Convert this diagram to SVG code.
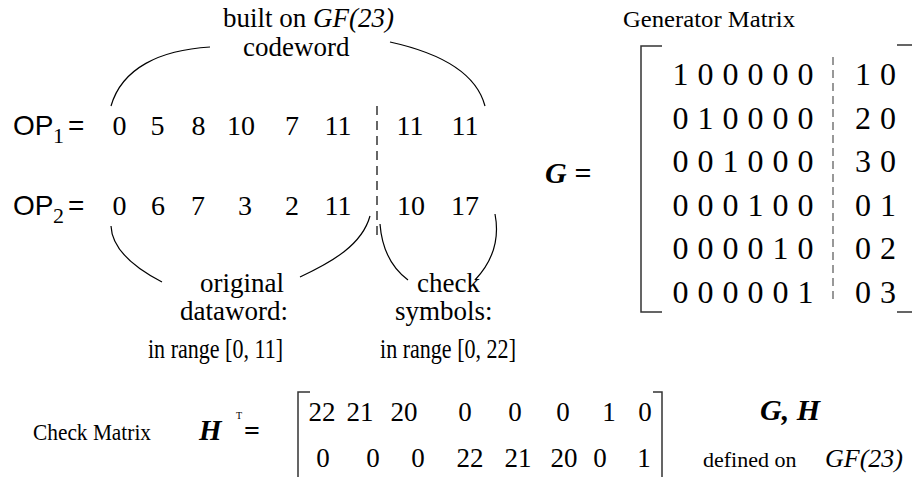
<svg xmlns="http://www.w3.org/2000/svg" width="912" height="477" viewBox="0 0 912 477">
<style>
.s{font-family:"Liberation Serif","Times New Roman",serif;fill:#000}
.a{font-family:"Liberation Sans",Arial,sans-serif;fill:#000}
.n{font-size:28px;text-anchor:middle}
.m{font-size:32px;text-anchor:middle}
.h{font-size:27px;text-anchor:middle}
.bi{font-weight:bold;font-style:italic}
.it{font-style:italic}
.arc{fill:none;stroke:#000;stroke-width:1.2}
.br{fill:none;stroke:#333;stroke-width:1.5}
</style>
<rect width="912" height="477" fill="#fff"/>
<g id="title">
<text class="s" x="223" y="27" font-size="27">built on <tspan class="it">GF(23)</tspan></text>
<text class="s" x="243" y="56" font-size="27">codeword</text>
</g>
<g id="op1">
<text class="a" x="13" y="135" font-size="28">OP</text>
<text class="s" x="53" y="143" font-size="22">1</text>
<text class="a" x="68" y="135" font-size="28">=</text>
<text class="s n" y="135"><tspan x="119.5">0</tspan><tspan x="157.5">5</tspan><tspan x="198.5">8</tspan><tspan x="241">10</tspan><tspan x="292">7</tspan><tspan x="338">11</tspan><tspan x="410">11</tspan><tspan x="465">11</tspan></text>
</g>
<g id="op2">
<text class="a" x="13" y="215" font-size="28">OP</text>
<text class="s" x="53" y="223" font-size="22">2</text>
<text class="a" x="68" y="215" font-size="28">=</text>
<text class="s n" y="215"><tspan x="119.5">0</tspan><tspan x="158">6</tspan><tspan x="198">7</tspan><tspan x="245">3</tspan><tspan x="292">2</tspan><tspan x="338">11</tspan><tspan x="411">10</tspan><tspan x="465">17</tspan></text>
</g>
<g id="labels">
<text class="s" x="200" y="292" font-size="27">original</text>
<text class="s" x="180" y="320" font-size="27">dataword:</text>
<text class="s" x="417" y="292" font-size="27">check</text>
<text class="s" x="395" y="320" font-size="27">symbols:</text>
<text class="s" x="148" y="358" font-size="27" textLength="135" lengthAdjust="spacingAndGlyphs">in range [0, 11]</text>
<text class="s" x="380" y="358" font-size="27" textLength="136" lengthAdjust="spacingAndGlyphs">in range [0, 22]</text>
</g>
<g id="connectors">
<path class="arc" d="M111,106 C122,68 160,50 210,47"/>
<path class="arc" d="M390,42 C440,53 476,72 485,106"/>
<path class="arc" d="M111,226 C112,250 135,268 162,282"/>
<path class="arc" d="M300,277 C332,262 362,245 370,216"/>
<path class="arc" d="M380,224 C382,250 392,268 408,280"/>
<path class="arc" d="M495,214 C500,240 492,262 475,280"/>
<line x1="377" y1="106" x2="377" y2="240" stroke="#000" stroke-width="1.2" stroke-dasharray="9,6"/>
</g>
<g id="generator">
<text class="s" x="623" y="27" font-size="23" textLength="172" lengthAdjust="spacingAndGlyphs">Generator  Matrix</text>
<text class="s bi" x="545" y="183" font-size="30">G =</text>
<path class="br" d="M662,46 H641 V312 H662"/>
<path class="br" d="M897,45 H912 M897,312 H912"/>
<line x1="833" y1="57" x2="833" y2="302" stroke="#777" stroke-width="1.5" stroke-dasharray="8,5"/>
<g class="s m">
<text x="680.5 705.5 730.5 755.5 780.5 805.5 863 888" y="85">10000010</text>
<text x="680.5 705.5 730.5 755.5 780.5 805.5 863 888" y="128.5">01000020</text>
<text x="680.5 705.5 730.5 755.5 780.5 805.5 863 888" y="172">00100030</text>
<text x="680.5 705.5 730.5 755.5 780.5 805.5 863 888" y="215.5">00010001</text>
<text x="680.5 705.5 730.5 755.5 780.5 805.5 863 888" y="259">00001002</text>
<text x="680.5 705.5 730.5 755.5 780.5 805.5 863 888" y="302.5">00000103</text>
</g>
</g>
<g id="check">
<text class="s" x="33" y="440" font-size="23" textLength="118" lengthAdjust="spacingAndGlyphs">Check Matrix</text>
<text class="s bi" x="199" y="440" font-size="29">H</text>
<text class="s" x="236" y="419" font-size="10">T</text>
<text class="s" x="244" y="440" font-size="28" font-weight="bold">=</text>
<path class="br" d="M310,392 H298 V477"/>
<path class="br" d="M653,392 H662 V477"/>
<text class="s h" y="421"><tspan x="322">22</tspan><tspan x="360">21</tspan><tspan x="404">20</tspan><tspan x="465">0</tspan><tspan x="515">0</tspan><tspan x="563">0</tspan><tspan x="609">1</tspan><tspan x="645">0</tspan></text>
<text class="s h" y="467"><tspan x="323">0</tspan><tspan x="373">0</tspan><tspan x="418">0</tspan><tspan x="470">22</tspan><tspan x="518">21</tspan><tspan x="564">20</tspan><tspan x="600">0</tspan><tspan x="644">1</tspan></text>
</g>
<g id="note">
<text class="s bi" x="790" y="420" font-size="30" text-anchor="middle">G, H</text>
<text class="s" x="703" y="467" font-size="22">defined on</text>
<text class="s it" x="825" y="467" font-size="26">GF(23)</text>
</g>
</svg>
